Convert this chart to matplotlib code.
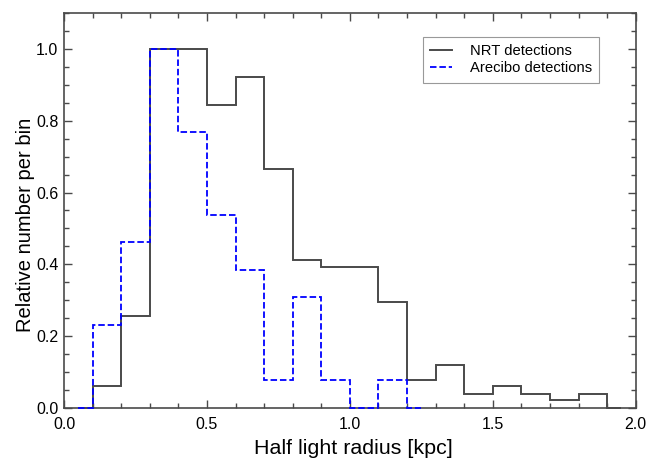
import numpy as np
import matplotlib
matplotlib.use("Agg")
import matplotlib.pyplot as plt
from matplotlib.ticker import MultipleLocator

plt.rcParams['font.family'] = ['Liberation Sans', 'DejaVu Sans']

# bin width and bin centres (kpc)
bin_width = 0.1
nrt_centres = [0.05, 0.15, 0.25, 0.35, 0.45, 0.55, 0.65, 0.75, 0.85, 0.95,
               1.05, 1.15, 1.25, 1.35, 1.45, 1.55, 1.65, 1.75, 1.85, 1.95]
nrt_values = [0.0, 0.059, 0.255, 1.0, 1.0, 0.843, 0.922, 0.667, 0.412, 0.392,
              0.392, 0.294, 0.078, 0.118, 0.039, 0.059, 0.039, 0.020, 0.039, 0.0]

are_centres = [0.05, 0.15, 0.25, 0.35, 0.45, 0.55, 0.65, 0.75, 0.85, 0.95,
               1.05, 1.15, 1.25]
are_values = [0.0, 0.231, 0.462, 1.0, 0.769, 0.538, 0.385, 0.077, 0.308, 0.077,
              0.0, 0.077, 0.0]

grey = "#4a4a4a"


def idl_edges(centres, w):
    # psym=10 style: steps between centres, half bins at both ends
    c = np.asarray(centres)
    return np.concatenate([[c[0]], c[:-1] + w / 2, [c[-1]]])


fig = plt.figure(figsize=(6.5, 4.59), dpi=100)
ax = fig.add_axes([0.0985, 0.112, 0.8795, 0.859])

ax.stairs(nrt_values, idl_edges(nrt_centres, bin_width), baseline=None,
          color=grey, lw=1.4, label="NRT detections", zorder=3, clip_on=False)
ax.stairs(are_values, idl_edges(are_centres, bin_width), baseline=None,
          color="#0000ff", lw=1.3, linestyle=(0, (3.6, 1.6)),
          label="Arecibo detections", zorder=4, clip_on=False)

ax.set_xlim(0, 2.0)
ax.set_ylim(0, 1.1)
ax.xaxis.set_major_locator(MultipleLocator(0.5))
ax.xaxis.set_minor_locator(MultipleLocator(0.1))
ax.yaxis.set_major_locator(MultipleLocator(0.2))
ax.yaxis.set_minor_locator(MultipleLocator(0.05))
ax.xaxis.set_major_formatter(plt.FormatStrFormatter("%.1f"))
ax.yaxis.set_major_formatter(plt.FormatStrFormatter("%.1f"))

ax.tick_params(which="both", direction="in", top=True, right=True,
               color=grey, labelsize=11.5)
ax.tick_params(axis="x", pad=7)
ax.tick_params(axis="y", pad=4)
ax.tick_params(which="major", length=6, width=1)
ax.tick_params(which="minor", length=3.5, width=1)
for s in ax.spines.values():
    s.set_color(grey)
    s.set_linewidth(1.2)

ax.set_xlabel("Half light radius [kpc]", fontsize=15.4, labelpad=5)
ax.set_ylabel("Relative number per bin", fontsize=14.5, labelpad=1)
ax.xaxis.label.set_x(0.507)
ax.yaxis.label.set_y(0.463)

leg = ax.legend(loc="upper right", bbox_to_anchor=(0.936, 0.94), fontsize=10.6,
                fancybox=False, edgecolor="#999999", framealpha=1,
                handlelength=1.5, handletextpad=1.2, borderpad=0.5,
                borderaxespad=0, labelspacing=0.2)
leg.get_frame().set_linewidth(0.8)

fig.savefig("out.png", dpi=100)
